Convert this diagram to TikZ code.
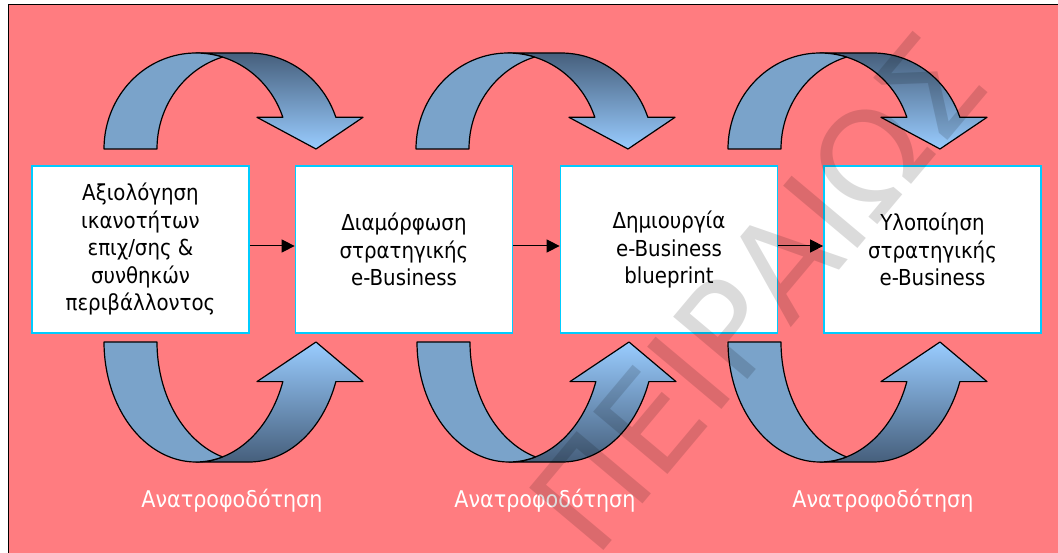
\documentclass[tikz,border=0pt]{standalone}
\usepackage{fontspec}
\setmainfont{DejaVu Sans Condensed}
\newfontfamily\markfont{DejaVu Sans}
\usetikzlibrary{arrows.meta}

\definecolor{bgpink}{RGB}{255,124,128}
\definecolor{boxcyan}{RGB}{0,204,255}
\definecolor{bandlight}{RGB}{122,163,202}
\definecolor{banddark}{RGB}{70,95,124}
\definecolor{bandpale}{RGB}{153,204,255}

% Curved band arrow: #1 left x of tail, #2 y of tail line, #3 vertical radius,
% #4 +1 for an arc over the top / -1 for an arc underneath,
% #5 / #6 top and bottom colours of the shaded back band
\newcommand\bandarrow[6]{%
  \pgfmathsetmacro\ax{#1+92}%
  \pgfmathsetmacro\bx{#1+145}%
  \pgfmathsetmacro\yt{#2-#4*#3}%
  \pgfmathsetmacro\yh{#2-#4*#3*0.33}%
  % back band with the arrow head
  \path[bandline, top color=#5, bottom color=#6]
    (\ax,\yt) -- (\bx,\yt)
    -- plot[domain=90:19.27, samples=40] ({\bx+92*cos(\x)},{#2-#4*#3*sin(\x)})
    -- (#1+259,\yh) -- (#1+212,#2) -- (#1+153,\yh)
    -- plot[domain=19.27:90, samples=40] ({\ax+92*cos(\x)},{#2-#4*#3*sin(\x)})
    -- cycle;
  % front band from the tail
  \path[bandline, fill=bandlight]
    plot[domain=180:73.26, samples=50] ({\ax+92*cos(\x)},{#2-#4*#3*sin(\x)})
    -- plot[domain=106.74:180, samples=50] ({\bx+92*cos(\x)},{#2-#4*#3*sin(\x)})
    -- cycle;
}

\begin{document}
\begin{tikzpicture}[x=1pt,y=-1pt,
  stagebox/.style={draw=boxcyan, line width=1.7pt, fill=white,
    minimum width=217pt, minimum height=167pt, inner sep=0pt,
    align=center, font=\fontsize{22}{27.5}\selectfont},
  link/.style={line width=1pt, -{Triangle[length=13pt,width=13pt]}},
  bandline/.style={draw=black, line width=1.2pt, line join=round},
  feedback/.style={text=white, anchor=base, font=\fontsize{23}{27}\selectfont},
  watermark/.style={rotate=50, text=black, text opacity=0.14,
    font=\markfont\fontsize{133}{133}\selectfont}]

\useasboundingbox (0,0) rectangle (1058,553);

% background panel
\fill[bgpink] (8,5) rectangle (1058,553);
\draw[line width=1pt] (8,553) -- (8,5) -- (1058,5);

% arcs above the boxes
\foreach \xo in {104,416,728}{\bandarrow{\xo}{149}{96}{1}{banddark}{bandpale}}
% arcs below the boxes
\foreach \xo in {104,417,728}{\bandarrow{\xo}{342}{120}{-1}{bandpale}{banddark}}

% stages
\node[stagebox] (b1) at (140.5,249.5) {Αξιολόγηση\\ικανοτήτων\\επιχ/σης \&\\συνθηκών\\περιβάλλοντος};
\node[stagebox] (b2) at (404,249.5) {Διαμόρφωση\\στρατηγικής\\e-Business};
\node[stagebox] (b3) at (669,249.5) {Δημιουργία\\e-Business\\blueprint};
\node[stagebox] (b4) at (932.5,249.5) {Υλοποίηση\\στρατηγικής\\e-Business};

\draw[link] ([yshift=3.5pt]b1.east) -- ([yshift=3.5pt]b2.west);
\draw[link] ([yshift=3.5pt]b2.east) -- ([yshift=3.5pt]b3.west);
\draw[link] ([yshift=3.5pt]b3.east) -- ([yshift=3.5pt]b4.west);

% feedback labels
\node[feedback] (f1) at (232,507) {Ανατροφοδότηση};
\node[feedback] (f2) at (545,507) {Ανατροφοδότηση};
\node[feedback] (f3) at (883,507) {Ανατροφοδότηση};

% watermark
\node[watermark] (wm) at (757,292) {ΠΕΙΡΑΙΩΣ};
\end{tikzpicture}
\end{document}
